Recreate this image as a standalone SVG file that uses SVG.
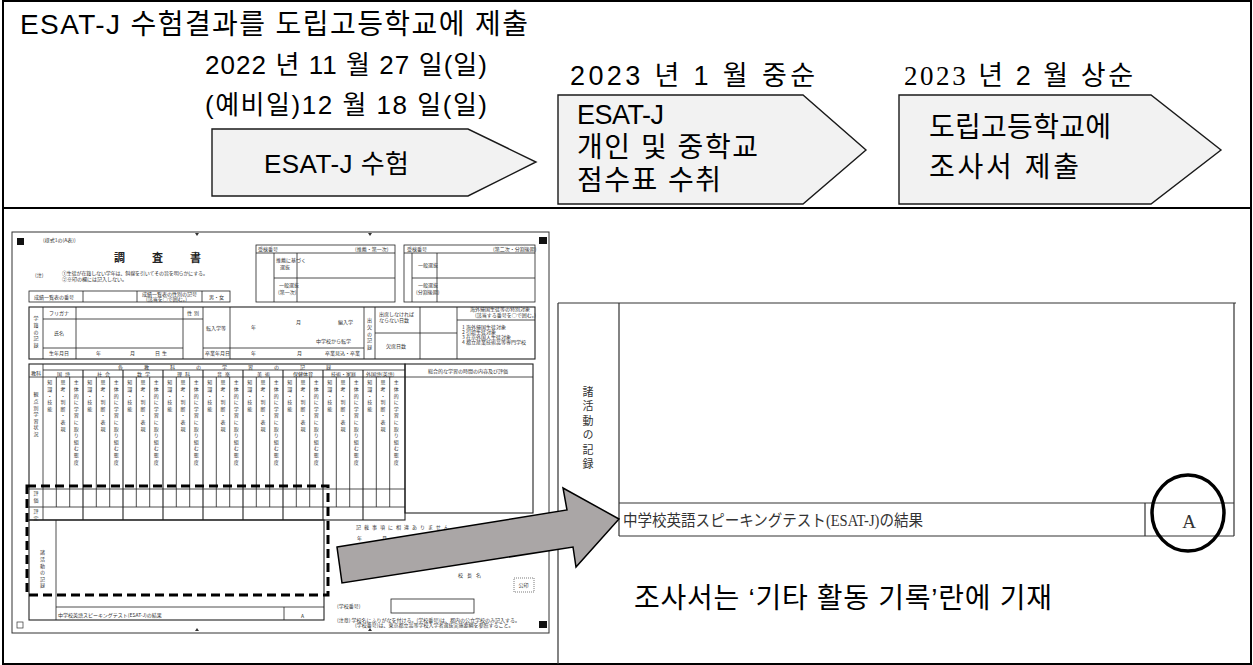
<svg xmlns="http://www.w3.org/2000/svg" width="1253" height="665" viewBox="0 0 1253 665">
<style>
.frame{fill:none;stroke:#000;stroke-width:2}
.ko{font-family:"Liberation Sans","Noto Sans CJK KR",sans-serif;fill:#000}
.step{fill:#f2f2f2;stroke:#1a1a1a;stroke-width:1.4}
.fl{fill:none;stroke:#222;stroke-width:0.8}
.fb{fill:none;stroke:#222;stroke-width:1.1}
.ft{font-family:"Noto Sans CJK JP",sans-serif;font-size:5px;fill:#333}
.vt{font-family:"Noto Sans CJK JP",sans-serif;font-size:5px;fill:#333;writing-mode:vertical-rl;letter-spacing:1.6px}
.tl{fill:none;stroke:#333;stroke-width:1.2}
.mj{font-family:"Liberation Serif","Noto Sans CJK JP",serif;fill:#333}
</style>
<g id="frame">
<rect class="frame" x="3" y="1" width="1248" height="663"/>
<line class="frame" x1="3" y1="208" x2="1251" y2="208"/>
</g>
<g id="title">
<text class="ko" x="20" y="34" font-size="28" textLength="508" lengthAdjust="spacing">ESAT-J  수험결과를 도립고등학교에 제출</text>
</g>
<g id="step1">
<text class="ko" x="205" y="74" font-size="26" textLength="282" lengthAdjust="spacing">2022 년  11 월  27 일(일)</text>
<text class="ko" x="205" y="114" font-size="26" textLength="282" lengthAdjust="spacing">(예비일)12 월  18 일(일)</text>
<polygon class="step" points="212,129 468,129 536,162 468,196 212,196"/>
<text class="ko" x="264" y="173" font-size="26" textLength="145" lengthAdjust="spacing">ESAT-J 수험</text>
</g>
<g id="step2">
<text class="ko" x="570" y="85" font-size="27" textLength="245" lengthAdjust="spacing">2023  년  1  월  중순</text>
<polygon class="step" points="558,95 803,95 866,150 803,204 558,204"/>
<text class="ko" x="577" y="124" font-size="27" textLength="87" lengthAdjust="spacing">ESAT-J</text>
<text class="ko" x="577" y="157" font-size="28" textLength="181" lengthAdjust="spacing">개인 및 중학교</text>
<text class="ko" x="577" y="190" font-size="28" textLength="144" lengthAdjust="spacing">점수표 수취</text>
</g>
<g id="step3">
<text class="ko" x="904" y="85" font-size="27" textLength="229" lengthAdjust="spacing"><tspan font-family="Liberation Serif">2023</tspan> 년  2  월  상순</text>
<polygon class="step" points="899,95 1151,95 1221,150 1151,204 899,204"/>
<text class="ko" x="929" y="137" font-size="28" textLength="182" lengthAdjust="spacing">도립고등학교에</text>
<text class="ko" x="929" y="177" font-size="28" textLength="150" lengthAdjust="spacing">조사서 제출</text>
</g>
<g id="form">
<rect x="12" y="232" width="537" height="401" fill="#fff" stroke="#333" stroke-width="1"/>
<rect x="17" y="238" width="7" height="7" fill="#111"/>
<rect x="539" y="237" width="8" height="7" fill="#111"/>
<rect x="539" y="621" width="8" height="7" fill="#111"/>
<rect x="17" y="622" width="6" height="6" fill="#fff" stroke="#333" stroke-width="0.7"/>
<polygon points="195,233 199,233 197,236" fill="#333"/>
<polygon points="368,233 372,233 370,236" fill="#333"/>
<polygon points="195,631 199,631 197,628" fill="#333"/>
<polygon points="368,631 372,631 370,628" fill="#333"/>
<text class="ft" x="43" y="242">(様式1の(A表))</text>
<text x="114" y="262" font-family="Noto Sans CJK JP,sans-serif" font-size="11" font-weight="bold" fill="#222" letter-spacing="27">調査書</text>
<text class="ft" x="35" y="277" font-size="4.5">(注)</text>
<text class="ft" x="62" y="275" font-size="4.5" textLength="146">①生徒が在籍しない学年は、斜線を引いてその旨を明らかにする。</text>
<text class="ft" x="62" y="281" font-size="4.5">②※印の欄には記入しない。</text>
<rect class="fl" x="256" y="245" width="139" height="57"/>
<path class="fl" d="M256 253H395M274 253V302M297 253V302M274 278H395"/>
<text class="ft" x="258" y="251" font-size="4">受検番号</text>
<text class="ft" x="355" y="251" font-size="3.5">(推薦・第一次)</text>
<text class="ft" x="276" y="262" font-size="3.3">推薦に基づく</text>
<text class="ft" x="280" y="269" font-size="3.3">選抜</text>
<text class="ft" x="279" y="287" font-size="3.3">一般選抜</text>
<text class="ft" x="278" y="294" font-size="3.3">(第一次)</text>
<rect class="fl" x="404" y="245" width="131" height="57"/>
<path class="fl" d="M404 253H535M412 253V302M437 253V302M412 278H535"/>
<text class="ft" x="407" y="251" font-size="4">受検番号</text>
<text class="ft" x="493" y="251" font-size="3.5">(第二次・分割後期)</text>
<text class="ft" x="418" y="267" font-size="3.3">一般選抜</text>
<text class="ft" x="418" y="287" font-size="3.3">一般選抜</text>
<text class="ft" x="416" y="294" font-size="3.3">(分割後期)</text>
<rect class="fl" x="29" y="291" width="201" height="11"/>
<path class="fl" d="M83 291V302M137 291V302M202 291V302"/>
<text class="ft" x="34" y="298.5" font-size="4.5">成績一覧表の番号</text>
<text class="ft" x="142" y="295.5" font-size="3.4">成績一覧表の性別の記号</text>
<text class="ft" x="146" y="300.8" font-size="3.4">(該当を○で囲む。)</text>
<text class="ft" x="209" y="298.5" font-size="4.5">男・女</text>
<rect class="fb" x="29" y="307" width="506" height="52"/>
<path class="fl" d="M43 307V359M76 307V359M183 307V359M203 307V359M230 307V359M364 307V359M375 307V359M420 307V359M457 307V359M43 319H203M43 348H183M203 348H364M375 333H457M457 320H535"/>
<text class="vt" x="36" y="316" font-size="4.5">学籍の記録</text>
<text class="ft" x="49" y="314.5" font-size="4.5">フリガナ</text>
<text class="ft" x="54" y="335" font-size="4.5">氏名</text>
<text class="ft" x="49" y="355" font-size="4.5">生年月日</text>
<text class="ft" x="96" y="355" font-size="4.5">年</text>
<text class="ft" x="130" y="355" font-size="4.5">月</text>
<text class="ft" x="155" y="355" font-size="4.5" letter-spacing="2">日生</text>
<text class="ft" x="187" y="314.5" font-size="4.5" letter-spacing="2">性別</text>
<text class="ft" x="206" y="330" font-size="4.5">転入学等</text>
<text class="ft" x="205" y="355" font-size="3.5">卒業年月日</text>
<text class="ft" x="251" y="329" font-size="4.5">年</text>
<text class="ft" x="296" y="324" font-size="4.5">月</text>
<text class="ft" x="338" y="324" font-size="4.5">編入学</text>
<text class="ft" x="316" y="343" font-size="4.5">中学校から転学</text>
<text class="ft" x="251" y="355" font-size="4.5">年</text>
<text class="ft" x="297" y="355" font-size="4.5">月</text>
<text class="ft" x="325" y="355" font-size="4.5">卒業見込・卒業</text>
<text class="vt" x="369.5" y="318" font-size="4.5" letter-spacing="2.5">出欠の記録</text>
<text class="ft" x="379" y="315.5" font-size="4">出席しなければ</text>
<text class="ft" x="379" y="321.5" font-size="4">ならない日数</text>
<text class="ft" x="386" y="348" font-size="4.5">欠席日数</text>
<text class="ft" x="470" y="311" font-size="3.4">海外帰国生徒等の特別対象</text>
<text class="ft" x="475" y="316.5" font-size="3.4">(該当する番号を○で囲む。)</text>
<text class="ft" x="462" y="329" font-size="3.8">1 海外帰国生徒対象</text>
<text class="ft" x="462" y="334" font-size="3.8">2 引揚生徒対象</text>
<text class="ft" x="462" y="339" font-size="3.8">3 在京外国人生徒対象</text>
<text class="ft" x="462" y="344" font-size="3.8">4 都立産業技術高等専門学校</text>
<rect class="fb" x="29" y="364" width="376" height="156"/>
<path class="fl" d="M43 364V520M43 370H405M29 377H405M29 489H405M29 507H405"/>
<path class="fb" d="M83 370V520M123 370V520M163 370V520M203 370V520M243 370V520M283 370V520M323 370V520M363 370V520"/>
<path class="fl" d="M56.3 377V507M69.7 377V507M96.3 377V507M109.7 377V507M136.3 377V507M149.7 377V507M176.3 377V507M189.7 377V507M216.3 377V507M229.7 377V507M256.3 377V507M269.7 377V507M296.3 377V507M309.7 377V507M336.3 377V507M349.7 377V507M376.3 377V507M389.7 377V507"/>
<text class="ft" x="118" y="369" font-size="5" letter-spacing="21">各教科の学習の記録</text>
<text class="ft" x="31" y="374.5" font-size="4.5">教科</text>
<text class="ft" x="57" y="375.5" font-size="5" letter-spacing="3">国語</text>
<text class="ft" x="97" y="375.5" font-size="5" letter-spacing="3">社会</text>
<text class="ft" x="137" y="375.5" font-size="5" letter-spacing="3">数学</text>
<text class="ft" x="177" y="375.5" font-size="5" letter-spacing="3">理科</text>
<text class="ft" x="217" y="375.5" font-size="5" letter-spacing="3">音楽</text>
<text class="ft" x="257" y="375.5" font-size="5" letter-spacing="3">美術</text>
<text class="ft" x="293" y="375.5" font-size="5">保健体育</text>
<text class="ft" x="331" y="375.5" font-size="5">技術・家庭</text>
<text class="ft" x="366" y="375.5" font-size="5">外国語(英語)</text>
<text class="vt" x="36" y="392" font-size="6" letter-spacing="7">観点別学習状況</text>
<text class="vt" x="36" y="491" font-size="4.5" letter-spacing="1">評価</text>
<text class="vt" x="36" y="509" font-size="4.5" letter-spacing="1">評定</text>
<text class="vt" x="49.7" y="380">知識・技能</text><text class="vt" x="63" y="380">思考・判断・表現</text><text class="vt" x="76.3" y="380">主体的に学習に取り組む態度</text>
<text class="vt" x="89.7" y="380">知識・技能</text><text class="vt" x="103" y="380">思考・判断・表現</text><text class="vt" x="116.3" y="380">主体的に学習に取り組む態度</text>
<text class="vt" x="129.7" y="380">知識・技能</text><text class="vt" x="143" y="380">思考・判断・表現</text><text class="vt" x="156.3" y="380">主体的に学習に取り組む態度</text>
<text class="vt" x="169.7" y="380">知識・技能</text><text class="vt" x="183" y="380">思考・判断・表現</text><text class="vt" x="196.3" y="380">主体的に学習に取り組む態度</text>
<text class="vt" x="209.7" y="380">知識・技能</text><text class="vt" x="223" y="380">思考・判断・表現</text><text class="vt" x="236.3" y="380">主体的に学習に取り組む態度</text>
<text class="vt" x="249.7" y="380">知識・技能</text><text class="vt" x="263" y="380">思考・判断・表現</text><text class="vt" x="276.3" y="380">主体的に学習に取り組む態度</text>
<text class="vt" x="289.7" y="380">知識・技能</text><text class="vt" x="303" y="380">思考・判断・表現</text><text class="vt" x="316.3" y="380">主体的に学習に取り組む態度</text>
<text class="vt" x="329.7" y="380">知識・技能</text><text class="vt" x="343" y="380">思考・判断・表現</text><text class="vt" x="356.3" y="380">主体的に学習に取り組む態度</text>
<text class="vt" x="369.7" y="380">知識・技能</text><text class="vt" x="383" y="380">思考・判断・表現</text><text class="vt" x="396.3" y="380">主体的に学習に取り組む態度</text>
<rect class="fb" x="405" y="364" width="128" height="149"/>
<line class="fl" x1="405" y1="377" x2="533" y2="377"/>
<text class="ft" x="428" y="372.5" font-size="4.5">総合的な学習の時間の内容及び評価</text>
<rect class="fb" x="29" y="520" width="295" height="100"/>
<path class="fl" d="M56 520V620M56 607H324M284 607V620"/>
<text class="vt" x="42.5" y="550" font-size="5" letter-spacing="2">諸活動の記録</text>
<text class="ft" x="58" y="616.5" font-size="6.3">中学校英語スピーキングテスト(ESAT-J)の結果</text>
<text class="ft" x="301" y="617.5" font-size="8">A</text>
<text class="ft" x="356" y="529" font-size="5.5" letter-spacing="3">記載事項に相違ありません。</text>
<text class="ft" x="357" y="540" font-size="5">年</text>
<text class="ft" x="382" y="540" font-size="5">月</text>
<text class="ft" x="458" y="577" font-size="5.5" letter-spacing="4">校長名</text>
<rect x="514" y="578" width="20" height="14" fill="none" stroke="#444" stroke-width="0.7" stroke-dasharray="1 1"/>
<text class="ft" x="518.5" y="587" font-size="5">公印</text>
<text class="ft" x="337" y="608" font-size="5">(学校番号)</text>
<rect class="fl" x="391" y="599" width="83" height="14"/>
<text class="ft" x="337" y="622" font-size="3.8">(注意) 学校名にふりがなを付ける。(学校番号)は、都内の公立学校のみ記入する。</text>
<text class="ft" x="355" y="627" font-size="3.8">(学校番号)は、東京都立高等学校入学者選抜実施要綱を参照すること。</text>
<rect x="27" y="486" width="301" height="109" fill="none" stroke="#000" stroke-width="3" stroke-dasharray="9 5"/>
</g>
<g id="enlarged">
<path class="tl" d="M558 303H1236M558 303V664M619 303V536M1234 303V536M619 503H1234M619 536H1234M1145 503V536"/>
<text class="mj" x="587" y="386" font-size="11" fill="#555" style="writing-mode:vertical-rl;letter-spacing:3.5px">諸活動の記録</text>
<text class="mj" x="623" y="526" font-size="16" textLength="300" lengthAdjust="spacingAndGlyphs">中学校英語スピーキングテスト(ESAT-J)の結果</text>
<text class="mj" x="1189" y="528" font-size="19" text-anchor="middle">A</text>
<ellipse cx="1188" cy="513" rx="36" ry="38" fill="none" stroke="#000" stroke-width="3.5"/>
</g>
<g id="connectors">
<polygon points="337,547 567,510 563,488 619,519 576,567 573,547 342,583" fill="#aaa6a6" stroke="#000" stroke-width="1.5"/>
</g>
<g id="caption">
<text class="ko" x="634" y="608" font-size="28" textLength="418" lengthAdjust="spacing">조사서는 ‘기타 활동 기록’란에 기재</text>
</g>
</svg>
